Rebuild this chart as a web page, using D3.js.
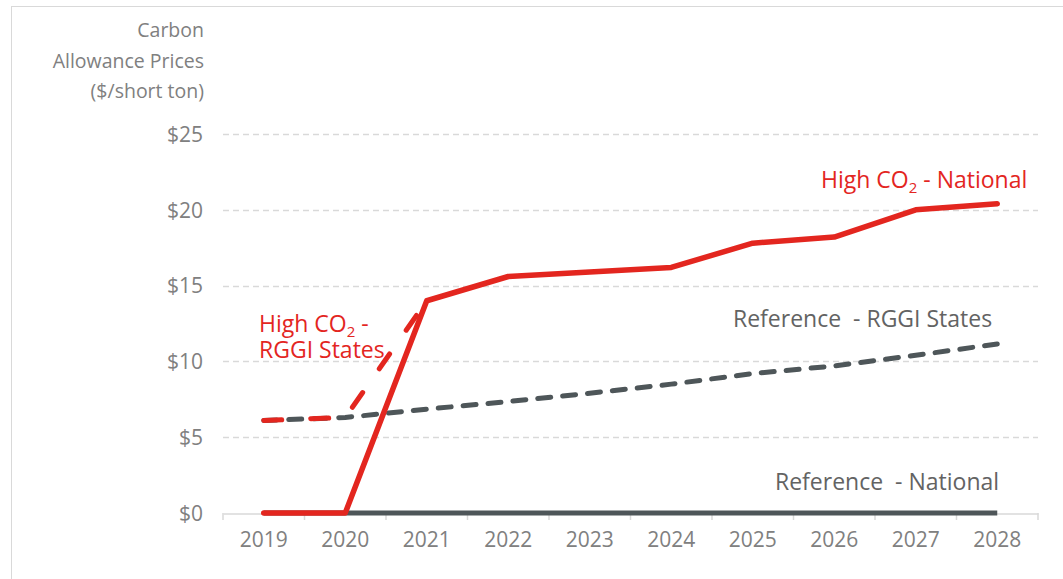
<!DOCTYPE html>
<html>
<head>
<meta charset="utf-8">
<script src="https://cdn.jsdelivr.net/npm/d3@7/dist/d3.min.js"></script>
<style>
  body { margin: 0; background: #fff; }
  svg { display: block; font-family: "Open Sans", Lato, sans-serif; }
  text { white-space: pre; }
</style>
</head>
<body>
<svg id="chart" width="1063" height="579"></svg>
<script>
// Carbon allowance price paths, $/short ton
const years = ["2019","2020","2021","2022","2023","2024","2025","2026","2027","2028"];
const highNational  = [0, 0, 14.0, 15.6, 15.9, 16.2, 17.8, 18.2, 20.0, 20.4];
const highRggi      = [6.1, 6.3, 14.0];
const refRggi       = [6.1, 6.3, 6.85, 7.35, 7.9, 8.5, 9.2, 9.7, 10.4, 11.15];
const refNational   = [0, 0, 0, 0, 0, 0, 0, 0, 0, 0];
const yTicks = [0, 5, 10, 15, 20, 25];
const titleLines = ["Carbon", "Allowance Prices", "($/short ton)"];

const FONT = "'Open Sans', Lato, sans-serif";
const RED = "#E3261F";
const DARK = "#4E5659";
const LABEL = "#808080";
const NOTE = "#636363";
const TICK_SIZE = "21px";
const NOTE_SIZE = "23px";

const svg = d3.select("#chart");

// outer frame
svg.append("rect")
  .attr("x", 11.5).attr("y", 6.5)
  .attr("width", 1200).attr("height", 800)
  .attr("fill", "none").attr("stroke", "#D9D9D9");

const x = d3.scaleBand().domain(years).range([223, 1038]);
const y = d3.scaleLinear().domain([0, 25]).range([513, 134]);
const cx = d => x(d) + x.bandwidth() / 2;

// horizontal gridlines
svg.append("g")
  .selectAll("line")
  .data(yTicks.filter(v => v > 0))
  .join("line")
  .attr("x1", 223).attr("x2", 1038)
  .attr("y1", d => Math.round(y(d)) + 0.5).attr("y2", d => Math.round(y(d)) + 0.5)
  .attr("stroke", "#D9D9D9").attr("stroke-width", 1.5)
  .attr("stroke-dasharray", "6 4");

// y axis labels
const yAxis = svg.append("g").attr("transform", "translate(223,0)")
  .call(d3.axisLeft(y).tickValues(yTicks).tickFormat(d => "$" + d).tickSize(0).tickPadding(20))
  .attr("font-family", FONT).attr("font-size", TICK_SIZE);
yAxis.select(".domain").remove();
yAxis.selectAll("text").attr("fill", LABEL).attr("dy", "0.35em");

// x axis
const xAxis = svg.append("g").attr("transform", "translate(0,513.5)")
  .call(d3.axisBottom(x).tickSizeOuter(0).tickSize(0).tickPadding(19))
  .attr("font-family", FONT).attr("font-size", TICK_SIZE);
xAxis.select(".domain").attr("stroke", "#D9D9D9").attr("stroke-width", 1.5);
xAxis.selectAll("text").attr("fill", LABEL);
// tick marks on category boundaries
svg.append("g")
  .selectAll("line")
  .data(years.concat(["end"]))
  .join("line")
  .attr("x1", (d, i) => i < years.length ? x(d) : x(years[years.length - 1]) + x.bandwidth())
  .attr("x2", (d, i) => i < years.length ? x(d) : x(years[years.length - 1]) + x.bandwidth())
  .attr("y1", 513).attr("y2", 520)
  .attr("stroke", "#D9D9D9").attr("stroke-width", 1.5);

// axis title
svg.append("text")
  .attr("text-anchor", "end").attr("fill", LABEL).style("font-size", "19.5px")
  .selectAll("tspan")
  .data(titleLines)
  .join("tspan")
  .attr("x", 204).attr("y", (d, i) => 37 + i * 30.5)
  .text(d => d);

const line = d3.line().x((d, i) => cx(years[i])).y(d => y(d));

svg.append("path").datum(refNational)
  .attr("d", line).attr("fill", "none")
  .attr("stroke", DARK).attr("stroke-width", 5);

svg.append("path").datum(refRggi)
  .attr("d", line).attr("fill", "none")
  .attr("stroke", DARK).attr("stroke-width", 5)
  .attr("stroke-linecap", "round").attr("stroke-dasharray", "13 12");

svg.append("path").datum(highRggi)
  .attr("d", line).attr("fill", "none")
  .attr("stroke", RED).attr("stroke-width", 5)
  .attr("stroke-linecap", "round").attr("stroke-dasharray", "18 29");

svg.append("path").datum(highNational)
  .attr("d", line).attr("fill", "none")
  .attr("stroke", RED).attr("stroke-width", 5.5)
  .attr("stroke-linejoin", "round").attr("stroke-linecap", "round");

// series annotations
function co2Label(xPos, yPos, suffix, secondLine) {
  const t = svg.append("text").attr("x", xPos).attr("y", yPos)
    .attr("fill", RED).style("font-size", NOTE_SIZE);
  t.append("tspan").text("High CO");
  t.append("tspan").attr("dy", 5).style("font-size", "15px").text("2");
  t.append("tspan").attr("dy", -5).text(suffix);
  if (secondLine) {
    t.append("tspan").attr("x", xPos).attr("dy", 26).text(secondLine);
  }
  return t;
}
co2Label(821, 188, " - National");
co2Label(259, 332, " -", "RGGI States");

svg.append("text").attr("x", 733).attr("y", 327)
  .attr("fill", NOTE).style("font-size", NOTE_SIZE).text("Reference  - RGGI States");
svg.append("text").attr("x", 775).attr("y", 490)
  .attr("fill", NOTE).style("font-size", NOTE_SIZE).text("Reference  - National");
</script>
</body>
</html>
